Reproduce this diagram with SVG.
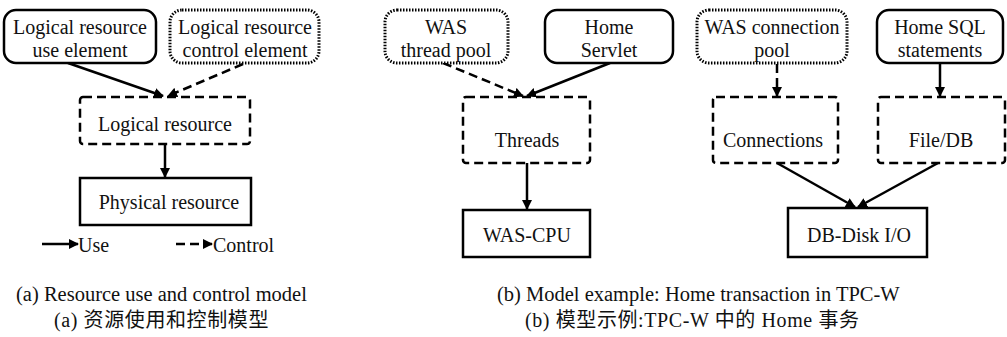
<svg xmlns="http://www.w3.org/2000/svg" width="1007" height="337" viewBox="0 0 1007 337">
<style>
.box{fill:#fff;stroke:#000;stroke-width:2.5}
.dash{stroke-dasharray:9 5}
.dot{stroke-dasharray:1.5 1.5;stroke-width:3}
text{font-family:"Liberation Serif","Times New Roman",serif;font-size:20px;fill:#111;text-anchor:middle}
.cap{font-size:20.5px;text-anchor:start}
.cjk{font-family:"Liberation Serif","Noto Sans CJK SC",serif;font-size:20px;letter-spacing:0.6px}
.c{fill:none;stroke:#000;stroke-width:2.5}
</style>
<defs>
<marker id="ah" viewBox="0 0 10 10" refX="9" refY="5" markerWidth="4" markerHeight="4" orient="auto" markerUnits="strokeWidth">
<path d="M0,0 L10,5 L0,10 z" fill="#000"/>
</marker>
</defs>
<rect width="1007" height="337" fill="#fff"/>
<g id="connectors">
<line class="c" x1="68" y1="63" x2="163" y2="96" marker-end="url(#ah)"/>
<line class="c dash" x1="243" y1="64" x2="168" y2="96" marker-end="url(#ah)"/>
<line class="c" x1="165" y1="145" x2="165" y2="177" marker-end="url(#ah)"/>
<line class="c" x1="42" y1="244" x2="78" y2="244" marker-end="url(#ah)"/>
<line class="c dash" x1="176" y1="244" x2="212" y2="244" marker-end="url(#ah)"/>
<line class="c dash" x1="443" y1="63" x2="523" y2="96" marker-end="url(#ah)"/>
<line class="c" x1="610" y1="63" x2="527" y2="96" marker-end="url(#ah)"/>
<line class="c" x1="527" y1="163" x2="527" y2="209" marker-end="url(#ah)"/>
<line class="c dash" x1="777" y1="64" x2="777" y2="96" marker-end="url(#ah)"/>
<line class="c" x1="940" y1="64" x2="940" y2="96" marker-end="url(#ah)"/>
<line class="c" x1="777" y1="163" x2="855" y2="207" marker-end="url(#ah)"/>
<line class="c" x1="938" y1="163" x2="858" y2="207" marker-end="url(#ah)"/>
</g>
<g id="use-element">
<rect class="box" x="4" y="10" width="152" height="53" rx="12"/>
<text x="80" y="34">Logical resource</text>
<text x="80" y="57">use element</text>
</g>
<g id="control-element">
<rect class="box dot" x="170" y="10" width="149" height="53" rx="12"/>
<text x="245" y="34">Logical resource</text>
<text x="245" y="57">control element</text>
</g>
<g id="logical-resource">
<rect class="box dash" x="80" y="97" width="170" height="47" rx="3"/>
<text x="165" y="131">Logical resource</text>
</g>
<g id="physical-resource">
<rect class="box" x="80" y="178" width="171" height="47"/>
<text x="169" y="209">Physical resource</text>
</g>
<g id="legend">
<text x="78" y="252" style="text-anchor:start">Use</text>
<text x="213" y="252" style="text-anchor:start">Control</text>
</g>
<g id="was-thread-pool">
<rect class="box dot" x="385" y="10" width="123" height="53" rx="12"/>
<text x="446" y="34">WAS</text>
<text x="446" y="57">thread pool</text>
</g>
<g id="home-servlet">
<rect class="box" x="545" y="10" width="128" height="53" rx="12"/>
<text x="609" y="34">Home</text>
<text x="609" y="57">Servlet</text>
</g>
<g id="threads">
<rect class="box dash" x="463" y="97" width="127" height="66" rx="3"/>
<text x="527" y="147">Threads</text>
</g>
<g id="was-cpu">
<rect class="box" x="463" y="210" width="127" height="47"/>
<text x="527" y="242">WAS-CPU</text>
</g>
<g id="was-connection-pool">
<rect class="box dot" x="697" y="10" width="150" height="53" rx="12"/>
<text x="772" y="34">WAS connection</text>
<text x="772" y="57">pool</text>
</g>
<g id="home-sql">
<rect class="box" x="877" y="10" width="126" height="53" rx="12"/>
<text x="940" y="34">Home SQL</text>
<text x="940" y="57">statements</text>
</g>
<g id="connections">
<rect class="box dash" x="713" y="97" width="125" height="66" rx="3"/>
<text x="773" y="147">Connections</text>
</g>
<g id="file-db">
<rect class="box dash" x="878" y="97" width="127" height="66" rx="3"/>
<text x="941" y="147">File/DB</text>
</g>
<g id="db-disk">
<rect class="box" x="788" y="208" width="139" height="49"/>
<text x="859" y="242">DB-Disk I/O</text>
</g>
<g id="captions">
<text class="cap" x="16" y="301">(a) Resource use and control model</text>
<text class="cap cjk" x="54" y="327">(a)  资源使用和控制模型</text>
<text class="cap" x="497" y="301">(b) Model example: Home transaction in TPC-W</text>
<text class="cap cjk" x="525" y="327">(b)  模型示例:TPC-W 中的 Home 事务</text>
</g>
</svg>
